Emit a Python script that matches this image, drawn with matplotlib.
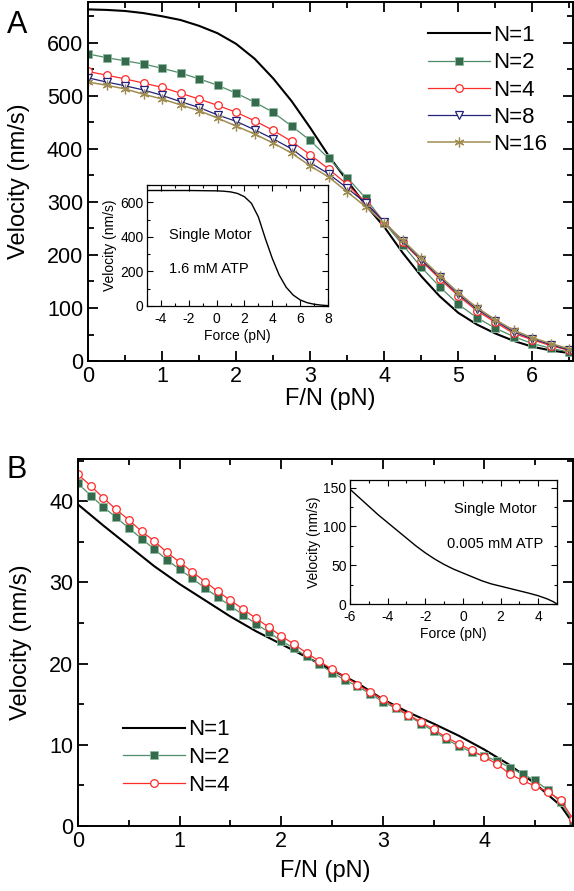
import numpy as np
import matplotlib
matplotlib.use("Agg")
import matplotlib.pyplot as plt
from matplotlib.ticker import MultipleLocator

plt.rcParams['font.family'] = ['Liberation Sans', 'DejaVu Sans']
plt.rcParams['axes.unicode_minus'] = False

# ---- Panel A data (F/N in pN, velocity in nm/s) ----
fa_line = np.arange(0, 6.51, 0.25)
va_n1 = [663, 662, 660, 656, 650, 643, 632, 618, 598, 570, 533, 490, 440, 387,
         340, 294, 253, 204, 160, 122, 91, 69, 52, 38, 27, 20, 15]
fa = np.arange(0, 6.51, 0.25)
va_n2 = [579, 572, 566, 560, 552, 543, 532, 520, 505, 488, 469, 443, 416, 382,
         346, 307, 261, 219, 177, 140, 107, 82, 62, 46, 33, 24, 17]
va_n4 = [546, 539, 532, 524, 516, 505, 494, 482, 469, 453, 435, 414, 389, 362,
         333, 299, 263, 224, 189, 155, 123, 95, 73, 52, 40, 29, 20]
va_n8 = [534, 526, 519, 511, 501, 489, 478, 464, 452, 436, 419, 400, 374, 353,
         326, 298, 262, 226, 191, 158, 126, 98, 76, 55, 42, 31, 21]
va_n16 = [526, 520, 513, 503, 494, 483, 472, 458, 443, 428, 411, 392, 368, 347,
          319, 291, 260, 228, 194, 161, 129, 101, 78, 58, 44, 33, 23]

# inset A: single motor, 1.6 mM ATP
fia = [-5, -4, -3, -2, -1, 0, 0.5, 1, 1.5, 2, 2.5, 3, 3.5, 4, 4.5, 5, 5.5, 6,
       6.5, 7, 7.5, 8]
via = [668, 668, 668, 668, 667, 666, 664, 660, 651, 632, 594, 515, 390, 275,
       178, 108, 63, 35, 19, 10, 5, 2]

# ---- Panel B data ----
fb_line = [0, 0.25, 0.5, 0.75, 1.0, 1.25, 1.5, 1.75, 2.0, 2.25, 2.5, 2.75, 3.0,
           3.25, 3.5, 3.75, 4.0, 4.25, 4.5, 4.75, 4.875]
vb_n1 = [39.6, 37.0, 34.5, 32.0, 29.8, 27.8, 25.8, 24.0, 22.4, 20.8, 19.2, 17.6,
         15.6, 14.0, 12.6, 11.1, 9.4, 7.5, 5.2, 2.5, 0.3]
fb = np.arange(0, 4.876, 0.125)
vb_n2 = [42.2, 40.7, 39.3, 38.0, 36.7, 35.4, 34.1, 32.8, 31.6, 30.5, 29.3, 28.2,
         27.1, 26.0, 24.9, 23.9, 22.8, 21.9, 20.9, 19.9, 18.9, 18.0, 17.2, 16.3,
         15.3, 14.5, 13.6, 12.6, 11.7, 10.7, 9.8, 9.1, 8.6, 8.0, 7.2, 6.4, 5.6,
         4.4, 2.9, 0.5]
vb_n4 = [43.3, 41.9, 40.4, 39.0, 37.7, 36.3, 35.1, 33.7, 32.5, 31.3, 30.1, 28.9,
         27.8, 26.7, 25.6, 24.5, 23.4, 22.4, 21.3, 20.3, 19.3, 18.4, 17.4, 16.5,
         15.6, 14.6, 13.7, 12.8, 11.9, 10.9, 10.1, 9.3, 8.5, 7.6, 6.4, 5.6, 4.9,
         4.2, 3.2, 0.8]

# inset B: single motor, 0.005 mM ATP
fib = [-6, -5.5, -5, -4.5, -4, -3.5, -3, -2.5, -2, -1.5, -1, -0.5, 0, 0.5, 1,
       1.5, 2, 2.5, 3, 3.5, 4, 4.5, 4.8, 5]
vib = [148, 137, 126, 115, 105, 95, 85, 75, 66, 58, 51, 45, 40, 35, 30, 26, 23,
       20, 17, 14, 10.7, 6.4, 3, 0]

# colours
c_n2 = '#4f8c6a'
c_n2f = '#356b4c'
c_n2e = '#8dbb9f'
c_n4 = '#ff2a2a'
c_n8 = '#22227a'
c_n16 = '#a08c50'


def style_main(ax):
    for s in ax.spines.values():
        s.set_linewidth(1.4)
    ax.tick_params(which='both', direction='in', top=True, right=True,
                   labelsize=15.5, width=1.3)
    ax.tick_params(which='major', length=7)
    ax.tick_params(which='minor', length=4)


def style_inset(ax):
    for s in ax.spines.values():
        s.set_linewidth(0.9)
    ax.tick_params(which='both', direction='in', top=True, right=True,
                   labelsize=10, width=0.8)
    ax.tick_params(axis='x', pad=4.5)
    ax.tick_params(axis='y', pad=2.5)
    ax.tick_params(which='major', length=4)
    ax.tick_params(which='minor', length=2.5)


fig = plt.figure(figsize=(5.74, 8.91), dpi=100)

# ================= Panel A =================
axA = fig.add_axes([0.1533, 0.5948, 0.8450, 0.4030])
axA.plot(fa_line, va_n1, color='black', lw=1.5, label='N=1')
axA.plot(fa, va_n2, color=c_n2, lw=0.9, marker='s', ms=5.2, mfc=c_n2f,
         mec=c_n2e, mew=0.6, label='N=2')
axA.plot(fa, va_n4, color=c_n4, lw=0.9, marker='o', ms=5.5, mfc='white',
         mec=c_n4, mew=0.9, label='N=4')
axA.plot(fa, va_n8, color=c_n8, lw=0.9, marker='v', ms=5.5, mfc='white',
         mec=c_n8, mew=0.9, label='N=8')
axA.plot(fa, va_n16, color=c_n16, lw=1.1, marker=(6, 2, 0), ms=7, mfc=c_n16,
         mec=c_n16, mew=0.9, label='N=16')
axA.set_xlim(0, 6.55)
axA.set_ylim(0, 677)
axA.xaxis.set_major_locator(MultipleLocator(1))
axA.xaxis.set_minor_locator(MultipleLocator(0.5))
axA.yaxis.set_major_locator(MultipleLocator(100))
axA.yaxis.set_minor_locator(MultipleLocator(50))
style_main(axA)
axA.set_xlabel('F/N (pN)', fontsize=17, labelpad=1)
axA.set_ylabel('Velocity (nm/s)', fontsize=17, labelpad=12)
axA.legend(loc='upper right', frameon=False, fontsize=16, handlelength=2.8,
           handletextpad=0.15, labelspacing=0.28, borderaxespad=0.0,
           bbox_to_anchor=(0.965, 0.96))
fig.text(0.012, 0.972, 'A', fontsize=22, ha='left', va='center')

# inset A
axIA = fig.add_axes([0.2561, 0.6566, 0.3153, 0.1358])
axIA.plot(fia, via, color='black', lw=1.0)
axIA.set_xlim(-5, 8)
axIA.set_ylim(0, 700)
axIA.xaxis.set_major_locator(MultipleLocator(2))
axIA.xaxis.set_minor_locator(MultipleLocator(1))
axIA.yaxis.set_major_locator(MultipleLocator(200))
axIA.yaxis.set_minor_locator(MultipleLocator(100))
style_inset(axIA)
axIA.set_xlabel('Force (pN)', fontsize=10, labelpad=2)
axIA.set_ylabel('Velocity (nm/s)', fontsize=10, labelpad=2)
axIA.text(-3.4, 410, 'Single Motor', fontsize=10.5, va='center')
axIA.text(-3.4, 213, '1.6 mM ATP', fontsize=10.5, va='center')

# ================= Panel B =================
axB = fig.add_axes([0.1359, 0.0730, 0.8630, 0.4118])
axB.plot(fb_line, vb_n1, color='black', lw=1.5, label='N=1')
axB.plot(fb, vb_n2, color=c_n2, lw=0.9, marker='s', ms=5.5, mfc=c_n2f,
         mec=c_n2e, mew=0.6, label='N=2')
axB.plot(fb, vb_n4, color=c_n4, lw=0.9, marker='o', ms=5.5, mfc='white',
         mec=c_n4, mew=0.9, label='N=4')
axB.set_xlim(0, 4.875)
axB.set_ylim(0, 45.2)
axB.xaxis.set_major_locator(MultipleLocator(1))
axB.xaxis.set_minor_locator(MultipleLocator(0.5))
axB.yaxis.set_major_locator(MultipleLocator(10))
axB.yaxis.set_minor_locator(MultipleLocator(5))
style_main(axB)
axB.set_xlabel('F/N (pN)', fontsize=17, labelpad=6)
axB.set_ylabel('Velocity (nm/s)', fontsize=17, labelpad=12)
axB.legend(loc='lower left', frameon=False, fontsize=16, handlelength=2.8,
           handletextpad=0.15, labelspacing=0.3, borderaxespad=0.0,
           bbox_to_anchor=(0.072, 0.058))
fig.text(0.012, 0.472, 'B', fontsize=22, ha='left', va='center')

# inset B
axIB = fig.add_axes([0.6098, 0.3221, 0.3606, 0.1392])
axIB.plot(fib, vib, color='black', lw=1.0)
axIB.set_xlim(-6, 5)
axIB.set_ylim(0, 160)
axIB.xaxis.set_major_locator(MultipleLocator(2))
axIB.xaxis.set_minor_locator(MultipleLocator(1))
axIB.yaxis.set_major_locator(MultipleLocator(50))
axIB.yaxis.set_minor_locator(MultipleLocator(25))
style_inset(axIB)
axIB.set_xlabel('Force (pN)', fontsize=10, labelpad=2)
axIB.set_ylabel('Velocity (nm/s)', fontsize=10, labelpad=2)
axIB.text(1.7, 122, 'Single Motor', fontsize=10.5, ha='center', va='center')
axIB.text(1.7, 78, '0.005 mM ATP', fontsize=10.5, ha='center', va='center')

fig.savefig('out.png', dpi=100)
